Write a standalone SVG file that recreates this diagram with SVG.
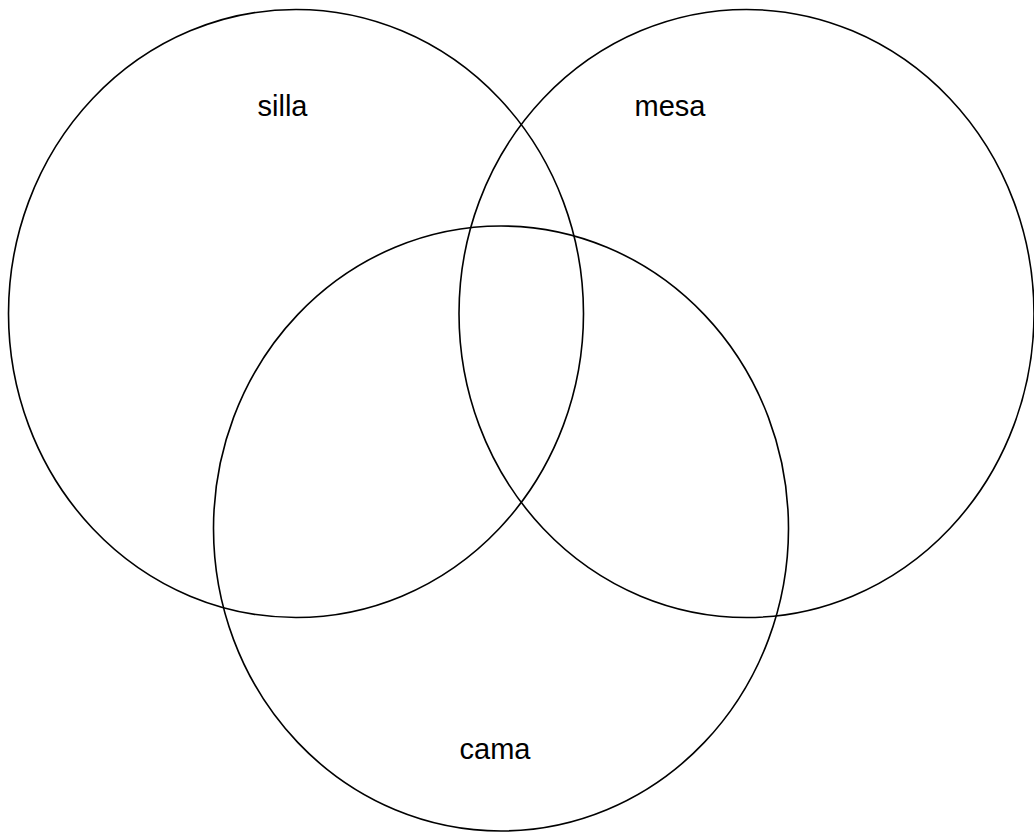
<svg xmlns="http://www.w3.org/2000/svg" width="1034" height="832" viewBox="0 0 1034 832">
<style>
.c{fill:none;stroke:#000;stroke-width:1.6}
.t{font-family:"Liberation Sans",Arial,sans-serif;font-size:29px;fill:#000;text-anchor:middle}
</style>
<rect width="1034" height="832" fill="#fff"/>
<g id="silla"><ellipse class="c" cx="296" cy="313.5" rx="287.5" ry="304"/><text class="t" x="282.5" y="116">silla</text></g>
<g id="mesa"><ellipse class="c" cx="746.5" cy="313.5" rx="287.5" ry="304"/><text class="t" x="670" y="116">mesa</text></g>
<g id="cama"><ellipse class="c" cx="501" cy="528.5" rx="287.5" ry="302.5"/><text class="t" x="495" y="759">cama</text></g>
<g id="connectors"/>
</svg>
